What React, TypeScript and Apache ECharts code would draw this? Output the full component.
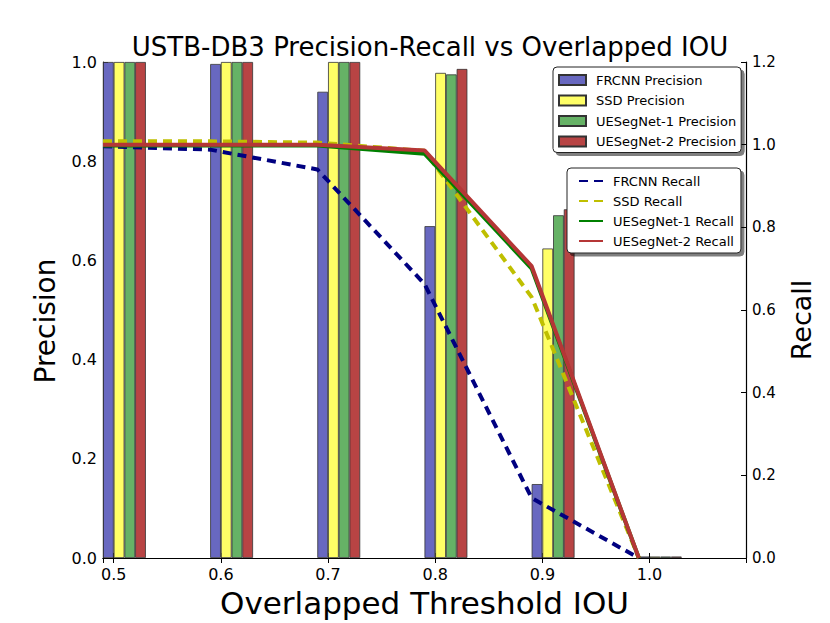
import React, { useEffect, useRef } from "react";
import * as echarts from "echarts";

// Bar thresholds and precision values (left axis)
const thresholds = [0.5, 0.6, 0.7, 0.8, 0.9, 1.0];
const frcnnPrecision = [1.0, 0.996, 0.94, 0.669, 0.149, 0.003];
const ssdPrecision = [1.0, 1.0, 1.0, 0.978, 0.624, 0.003];
const ue1Precision = [1.0, 1.0, 1.0, 0.975, 0.691, 0.003];
const ue2Precision = [1.0, 1.0, 1.0, 0.986, 0.703, 0.003];

// Recall curves (right axis)
const recallX = [0.49, 0.59, 0.69, 0.79, 0.89, 0.99];
const frcnnRecall = [0.996, 0.988, 0.94, 0.663, 0.145, 0.0];
const ssdRecall = [1.008, 1.008, 1.005, 0.985, 0.631, 0.0];
const ue1Recall = [0.998, 0.998, 0.998, 0.978, 0.7, 0.0];
const ue2Recall = [1.0, 1.0, 1.0, 0.986, 0.706, 0.0];

const precisionNames = ["FRCNN Precision", "SSD Precision", "UESegNet-1 Precision", "UESegNet-2 Precision"];
const recallNames = ["FRCNN Recall", "SSD Recall", "UESegNet-1 Recall", "UESegNet-2 Recall"];

const FONT = "'DejaVu Sans', sans-serif";

export default function App() {
  const ref = useRef<HTMLDivElement>(null);
  useEffect(() => {
    document.body.style.margin = "0";
    if (!ref.current) return;
    const chart = echarts.init(ref.current, undefined, { renderer: "svg" });
    const barColors = ["#6868c0", "#ffff66", "#66b266", "#b84444"];
    const lineColors = ["#000080", "#bfbf00", "#008000", "#b53636"];
    const precs = [frcnnPrecision, ssdPrecision, ue1Precision, ue2Precision];
    const recs = [frcnnRecall, ssdRecall, ue1Recall, ue2Recall];
    const barWidthPx = 643 / 0.6 * 0.01;

    const barSeries = precs.map((vals, i) => ({
      name: precisionNames[i],
      type: "bar",
      xAxisIndex: 0,
      yAxisIndex: 0,
      barWidth: barWidthPx,
      barGap: "0%",
      data: thresholds.map((t, k) => [t + 0.01, vals[k]]),
      itemStyle: { color: barColors[i], borderColor: "#333", borderWidth: 0.8 },
      z: 2,
    }));
    const lineSeries = recs.map((vals, i) => ({
      name: recallNames[i],
      type: "line",
      xAxisIndex: 0,
      yAxisIndex: 1,
      symbol: "none",
      showSymbol: false,
      data: recallX.map((x, k) => [x, vals[k]]),
      lineStyle: {
        color: lineColors[i],
        width: 4,
        type: i < 2 ? [9, 6] : "solid",
      },
      itemStyle: { color: lineColors[i] },
      z: 3 + i,
    }));

    const tickStyle = { inside: true, length: 5, lineStyle: { color: "#000", width: 1 } };
    const lineAxis = { lineStyle: { color: "#000", width: 1.2 } };
    const legendBox = {
      orient: "vertical",
      backgroundColor: "#fff",
      borderColor: "#222",
      borderWidth: 1,
      borderRadius: 4,
      shadowColor: "rgba(0,0,0,0.5)",
      shadowOffsetX: 3,
      shadowOffsetY: 3,
      shadowBlur: 1,
      textStyle: { fontFamily: FONT, fontSize: 13, color: "#000", lineHeight: 14, padding: [0, 0, 0, 5] },
    };

    chart.setOption({
      animation: false,
      backgroundColor: "#fff",
      title: {
        text: "USTB-DB3 Precision-Recall vs Overlapped IOU",
        left: 425,
        textAlign: "center",
        top: 29,
        textStyle: { fontFamily: FONT, fontSize: 26, fontWeight: "normal", color: "#000" },
      },
      grid: { left: 103, top: 62, width: 643, height: 498 },
      legend: [
        {
          ...legendBox,
          data: precisionNames,
          left: 553,
          top: 67,
          icon: "rect",
          itemWidth: 27,
          itemHeight: 10,
          itemGap: 6.5,
          padding: [6, 5, 4, 5],
        },
        {
          ...legendBox,
          data: recallNames,
          left: 567,
          top: 168,
          itemWidth: 24,
          itemHeight: 10,
          itemGap: 6,
          padding: [6, 7, 5, 11],
          itemStyle: { color: "transparent", borderColor: "transparent", borderWidth: 0 },
        },
      ],
      xAxis: [
        {
          type: "value",
          min: 0.49,
          max: 1.09,
          splitNumber: 6,
          position: "bottom",
          axisLine: lineAxis,
          axisTick: tickStyle,
          splitLine: { show: false },
          axisLabel: {
            color: "#000",
            fontFamily: FONT,
            fontSize: 16,
            margin: 8,
            formatter: (v: number) =>
              Math.abs(v * 10 - Math.round(v * 10)) < 1e-6 ? v.toFixed(1) : "",
          },
          name: "Overlapped Threshold IOU",
          nameLocation: "middle",
          nameGap: 29,
          nameTextStyle: { fontFamily: FONT, fontSize: 31, color: "#000" },
        },
        {
          type: "value",
          min: 0.49,
          max: 1.09,
          splitNumber: 6,
          position: "top",
          axisLine: lineAxis,
          axisTick: tickStyle,
          splitLine: { show: false },
          axisLabel: { show: false },
        },
      ],
      yAxis: [
        {
          type: "value",
          min: 0,
          max: 1,
          interval: 0.2,
          position: "left",
          axisLine: { show: true, ...lineAxis },
          axisTick: tickStyle,
          splitLine: { show: false },
          axisLabel: {
            color: "#000",
            fontFamily: FONT,
            fontSize: 16,
            margin: 6,
            formatter: (v: number) => v.toFixed(1),
          },
          name: "Precision",
          nameLocation: "middle",
          nameRotate: 90,
          nameGap: 44,
          nameTextStyle: { fontFamily: FONT, fontSize: 28, color: "#000", padding: [0, 22, 0, 0] },
        },
        {
          type: "value",
          min: 0,
          max: 1.2,
          interval: 0.2,
          position: "right",
          axisLine: { show: true, ...lineAxis },
          axisTick: tickStyle,
          splitLine: { show: false },
          axisLabel: {
            color: "#000",
            fontFamily: FONT,
            fontSize: 15,
            margin: 6,
            formatter: (v: number) => v.toFixed(1),
          },
          name: "Recall",
          nameLocation: "middle",
          nameRotate: 90,
          nameGap: 42,
          nameTextStyle: { fontFamily: FONT, fontSize: 27, color: "#000", padding: [0, 20, 0, 0] },
        },
      ],
      series: [...barSeries, ...lineSeries],
    });
    return () => chart.dispose();
  }, []);
  return <div ref={ref} style={{ width: 830, height: 623 }} />;
}
